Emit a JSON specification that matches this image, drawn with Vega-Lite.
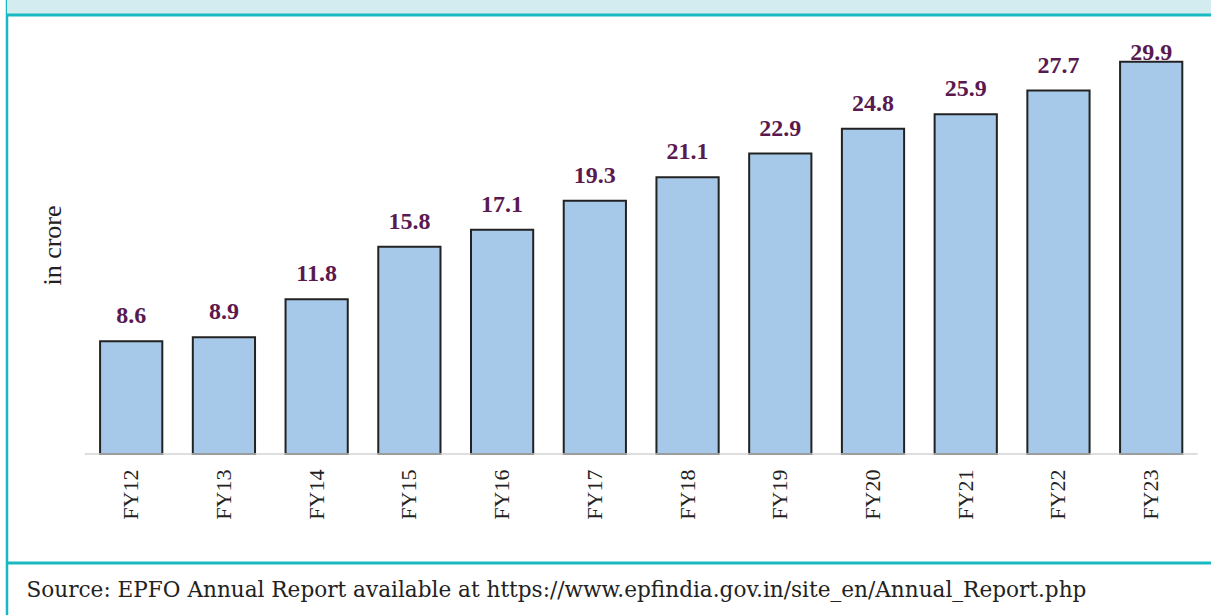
{
  "$schema": "https://vega.github.io/schema/vega-lite/v6.json",
  "width": 1206,
  "height": 619,
  "autosize": {"type": "none"},
  "padding": {"left": 7, "top": -2, "right": -2, "bottom": -2},
  "background": "white",
  "config": {
    "view": {"stroke": "#19b9c2", "strokeWidth": 2.5},
    "font": "Liberation Serif"
  },
  "title": {
    "text": "Source: EPFO Annual Report available at https://www.epfindia.gov.in/site_en/Annual_Report.php",
    "orient": "bottom",
    "anchor": "start",
    "baseline": "alphabetic",
    "offset": -20,
    "dx": 21,
    "fontSize": 21.6,
    "font": "DejaVu Serif",
    "fontWeight": "normal",
    "color": "#222222"
  },
  "data": {
    "values": [
      {"year": "FY12", "value": 8.6},
      {"year": "FY13", "value": 8.9},
      {"year": "FY14", "value": 11.8},
      {"year": "FY15", "value": 15.8},
      {"year": "FY16", "value": 17.1},
      {"year": "FY17", "value": 19.3},
      {"year": "FY18", "value": 21.1},
      {"year": "FY19", "value": 22.9},
      {"year": "FY20", "value": 24.8},
      {"year": "FY21", "value": 25.9},
      {"year": "FY22", "value": 27.7},
      {"year": "FY23", "value": 29.9}
    ]
  },
  "layer": [
    {
      "data": {"values": [{}]},
      "mark": {"type": "rect", "color": "#d3ecf0"},
      "encoding": {
        "y": {
          "datum": 33.46, "type": "quantitative",
          "scale": {"domain": [-12.42, 34.756], "nice": false, "zero": false},
          "axis": {
            "title": "in crore", "labels": false, "ticks": false, "domain": false, "grid": false,
            "titleX": 45, "titleY": 247, "titleAngle": 270, "titleAlign": "center", "titleBaseline": "middle",
            "titleFontSize": 26, "titleFont": "Liberation Serif", "titleFontWeight": "normal", "titleColor": "#222222"
          }
        },
        "y2": {"datum": 34.756}
      }
    },
    {
      "data": {"values": [{}]},
      "mark": {"type": "rule", "color": "#19b9c2", "strokeWidth": 3},
      "encoding": {
        "y": {"datum": 33.46, "type": "quantitative"}
      }
    },
    {
      "data": {"values": [{}]},
      "mark": {"type": "rule", "color": "#19b9c2", "strokeWidth": 3},
      "encoding": {
        "y": {"datum": -8.308, "type": "quantitative"}
      }
    },
    {
      "mark": {"type": "bar", "fill": "#a7c9e9", "stroke": "#222222", "strokeWidth": 2},
      "encoding": {
        "x": {
          "field": "year", "type": "nominal", "sort": null,
          "scale": {"paddingInner": 0.329, "paddingOuter": 0.6675, "align": 0.752},
          "axis": {
            "title": null, "labelAngle": 270, "labelAlign": "right", "labelBaseline": "middle",
            "labelPadding": 15, "labelFontSize": 22, "labelFont": "Liberation Serif", "labelColor": "#222222",
            "ticks": false, "tickSize": 0, "domain": false, "grid": false, "offset": -163
          }
        },
        "y": {"field": "value", "type": "quantitative"},
        "y2": {"datum": 0}
      }
    },
    {
      "mark": {"type": "tick", "color": "#d0d0d0", "thickness": 2, "size": 93, "orient": "horizontal"},
      "encoding": {
        "x": {"field": "year", "type": "nominal", "sort": null},
        "y": {"datum": 0, "type": "quantitative"}
      }
    },
    {
      "transform": [{"filter": "datum.year != 'FY23'"}],
      "mark": {"type": "text", "fontSize": 24, "fontWeight": "bold", "font": "Liberation Serif", "color": "#5a1a50", "baseline": "alphabetic", "dy": -18},
      "encoding": {
        "x": {"field": "year", "type": "nominal", "sort": null},
        "y": {"field": "value", "type": "quantitative"},
        "text": {"field": "value", "type": "quantitative", "format": ".1f"}
      }
    },
    {
      "transform": [{"filter": "datum.year == 'FY23'"}],
      "mark": {"type": "text", "fontSize": 24, "fontWeight": "bold", "font": "Liberation Serif", "color": "#5a1a50", "baseline": "alphabetic", "dy": -2},
      "encoding": {
        "x": {"field": "year", "type": "nominal", "sort": null},
        "y": {"field": "value", "type": "quantitative"},
        "text": {"field": "value", "type": "quantitative", "format": ".1f"}
      }
    }
  ]
}
